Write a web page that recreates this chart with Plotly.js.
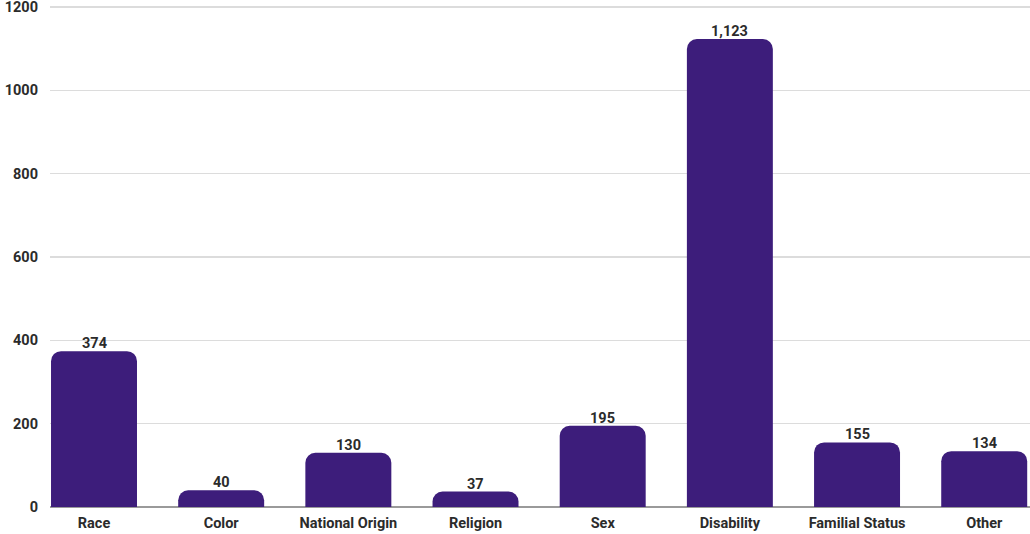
<!DOCTYPE html>
<html><head><meta charset="utf-8">
<script src="https://cdn.plot.ly/plotly-3.0.1.min.js"></script>
<style>html,body{margin:0;padding:0;background:#fff}#chart{width:1030px;height:534px}</style>
</head><body><div id="chart"></div>
<script>
const categories = ["Race","Color","National Origin","Religion","Sex","Disability","Familial Status","Other"];
const values = [374,40,130,37,195,1123,155,134];
const valueLabels = ["374","40","130","37","195","1,123","155","134"];
const yTicks = [0,200,400,600,800,1000,1200];

const labelAnnotations = categories.map((c, i) => ({
  x: c, y: values[i], xref: "x", yref: "y",
  text: valueLabels[i], showarrow: false,
  yanchor: "bottom", yshift: -3,
  font: {family: "Roboto, sans-serif", size: 14.5, color: "#2b2b2b", weight: "bold"}
}));

Plotly.newPlot("chart", [{
  type: "bar",
  x: categories,
  y: values,
  marker: {color: "#3d1d7b"},
  hoverinfo: "none"
}], {
  width: 1030, height: 534,
  margin: {l: 50, r: 0, t: 2, b: 27},
  paper_bgcolor: "#fff", plot_bgcolor: "#fff",
  bargap: 0.324,
  barcornerradius: 10,
  font: {family: "Roboto, sans-serif", color: "#2b2b2b"},
  showlegend: false,
  annotations: labelAnnotations,
  xaxis: {
    type: "category",
    range: [-0.346, 7.36],
    showgrid: false, zeroline: false, showline: false,
    ticks: "", ticklen: 0,
    ticklabelstandoff: 5,
    tickfont: {size: 14.5, weight: "bold", color: "#2b2b2b"}
  },
  yaxis: {
    range: [0, 1212],
    tickvals: yTicks,
    ticktext: yTicks.map(String),
    gridcolor: "#dcdcdc", gridwidth: 1.5,
    zeroline: true, zerolinecolor: "#9a9a9a", zerolinewidth: 1.5,
    showline: false, ticks: "",
    ticklabelstandoff: 11,
    ticklabeloverflow: "allow",
    tickfont: {size: 14.5, weight: "bold", color: "#2b2b2b"}
  }
}, {displayModeBar: false, staticPlot: true});
</script></body></html>
